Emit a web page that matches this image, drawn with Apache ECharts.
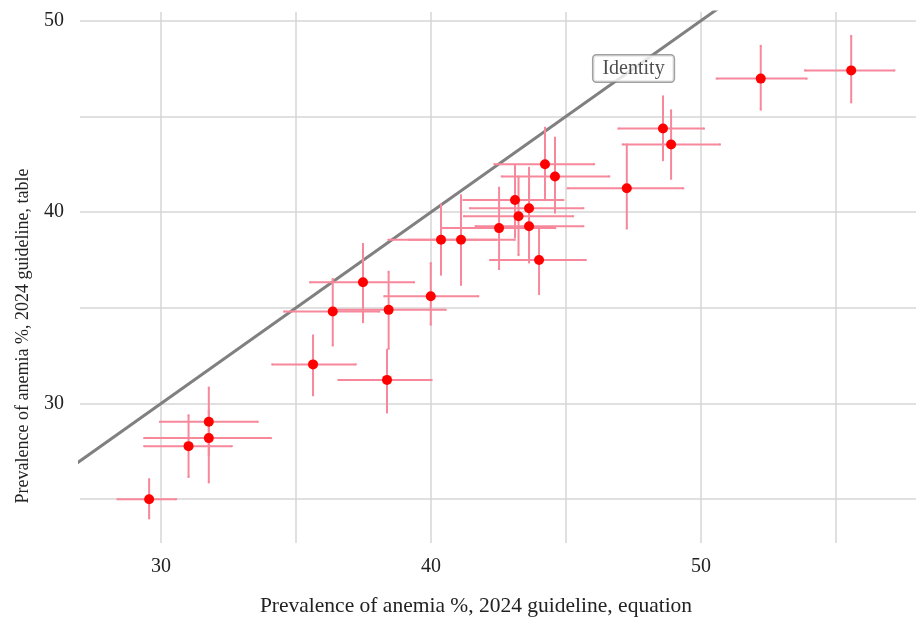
<!DOCTYPE html>
<html lang="en">
<head>
    <meta charset="UTF-8">
    <title>Anemia prevalence: equation vs table</title>
    <script src="https://cdn.jsdelivr.net/npm/echarts@6/dist/echarts.min.js"></script>
    <style>
        html, body {
            margin: 0;
            height: 100%;
            background: #fff;
        }
    </style>
</head>
<body>
<div id="main" style="width: 916px;height: 622px;"></div>
<script>
    // prevalence from equation (x) and table (y), with CI bounds
    var xVals = [29.56, 31.02, 31.77, 31.77, 35.63, 38.37, 36.36, 38.43, 37.48, 39.99,
        40.37, 41.11, 42.52, 43.11, 43.63, 43.24, 43.63, 44.00, 44.22, 44.59,
        47.25, 48.59, 48.89, 52.21, 55.56];
    var yVals = [25.00, 27.77, 29.04, 28.19, 32.04, 31.23, 34.80, 34.89, 36.33, 35.60,
        38.55, 38.55, 39.16, 40.63, 40.20, 39.78, 39.26, 37.49, 42.50, 41.86,
        41.24, 44.36, 43.53, 46.97, 47.40];
    var xLow = [28.39, 29.38, 29.96, 29.38, 34.12, 36.57, 34.56, 36.40, 35.52, 38.27,
        38.42, 39.20, 40.39, 41.20, 41.44, 41.22, 41.65, 42.19, 42.35, 42.62,
        45.06, 46.94, 47.10, 50.58, 53.85];
    var xHigh = [30.56, 32.62, 33.58, 34.07, 37.21, 40.02, 38.08, 40.54, 39.37, 41.75,
        42.40, 43.10, 44.60, 44.90, 45.64, 45.26, 45.64, 45.73, 46.04, 46.60,
        49.34, 50.11, 50.70, 53.91, 57.16];
    var yLow = [24.00, 26.16, 27.30, 25.88, 30.43, 29.53, 33.03, 32.86, 34.25, 34.12,
        36.73, 36.20, 37.02, 38.67, 37.37, 37.75, 37.60, 35.72, 40.67, 39.97,
        39.14, 42.71, 41.74, 45.35, 45.73];
    var yHigh = [26.04, 29.38, 30.83, 29.60, 33.55, 32.80, 36.50, 36.88, 38.33, 37.33,
        40.40, 40.87, 41.27, 42.43, 42.31, 41.85, 41.50, 39.10, 44.40, 43.88,
        43.53, 46.04, 45.31, 48.68, 49.20];

    var xRange = [27.0, 57.96];
    var yRange = [22.71, 50.45];
    var identityLabelAt = [47.5, 47.5];

    var barColor = '#f7889b';
    var serif = 'Liberation Serif';

    var points = [];
    var bars = [];
    for (var i = 0; i < xVals.length; i++) {
        points.push([xVals[i], yVals[i]]);
        bars.push([xVals[i], yVals[i], xLow[i], xHigh[i], yLow[i], yHigh[i]]);
    }

    var myChart = echarts.init(document.getElementById('main'));

    function tenOnly(v) {
        return Math.abs(v % 10) < 1e-6 ? String(v) : '';
    }

    var option = {
        animation: false,
        grid: {left: 80, right: 0, top: 12, bottom: 77},
        xAxis: {
            type: 'value',
            min: xRange[0],
            max: xRange[1],
            name: 'Prevalence of anemia %, 2024 guideline, equation',
            nameLocation: 'middle',
            nameGap: 52,
            nameTextStyle: {fontFamily: serif, fontSize: 21.5, color: '#222', padding: [0, 44, 0, 0]},
            axisLine: {show: false},
            axisTick: {show: false},
            axisLabel: {
                formatter: tenOnly, fontFamily: serif, fontSize: 20, color: '#222', margin: 14,
                showMinLabel: false, showMaxLabel: false
            },
            splitLine: {show: true, showMinLine: false, showMaxLine: false, lineStyle: {color: '#d6d6d6', width: 1.5}}
        },
        yAxis: {
            type: 'value',
            min: yRange[0],
            max: yRange[1],
            name: 'Prevalence of anemia %, 2024 guideline, table',
            nameLocation: 'middle',
            nameGap: 48,
            nameRotate: 90,
            nameTextStyle: {fontFamily: serif, fontSize: 18, color: '#222', padding: [0, 117, 0, 0]},
            axisLine: {show: false},
            axisTick: {show: false},
            axisLabel: {
                formatter: tenOnly, fontFamily: serif, fontSize: 20, color: '#222', margin: 16,
                showMinLabel: false, showMaxLabel: false
            },
            splitLine: {show: true, showMinLine: false, showMaxLine: false, lineStyle: {color: '#d6d6d6', width: 1.5}}
        },
        series: [
            {
                // identity line y = x
                type: 'line',
                data: [[20, 20], [60, 60]],
                symbol: 'none',
                clip: true,
                lineStyle: {color: '#808080', width: 3},
                z: 2
            },
            {
                // error bars, both directions
                type: 'custom',
                data: bars,
                clip: true,
                z: 3,
                renderItem: function (params, api) {
                    var c = api.coord([api.value(0), api.value(1)]);
                    var xl = api.coord([api.value(2), api.value(1)]);
                    var xh = api.coord([api.value(3), api.value(1)]);
                    var yl = api.coord([api.value(0), api.value(4)]);
                    var yh = api.coord([api.value(0), api.value(5)]);
                    var st = {stroke: barColor, lineWidth: 2, fill: null};
                    var cap = 1;
                    return {
                        type: 'group',
                        children: [
                            {type: 'line', shape: {x1: xl[0], y1: c[1], x2: xh[0], y2: c[1]}, style: st},
                            {type: 'line', shape: {x1: c[0], y1: yl[1], x2: c[0], y2: yh[1]}, style: st},
                            {type: 'line', shape: {x1: xl[0], y1: c[1] - cap, x2: xl[0], y2: c[1] + cap}, style: st},
                            {type: 'line', shape: {x1: xh[0], y1: c[1] - cap, x2: xh[0], y2: c[1] + cap}, style: st},
                            {type: 'line', shape: {x1: c[0] - cap, y1: yl[1], x2: c[0] + cap, y2: yl[1]}, style: st},
                            {type: 'line', shape: {x1: c[0] - cap, y1: yh[1], x2: c[0] + cap, y2: yh[1]}, style: st}
                        ]
                    };
                }
            },
            {
                type: 'scatter',
                data: points,
                symbol: 'circle',
                symbolSize: 10,
                itemStyle: {color: '#ff0000', opacity: 1},
                z: 4
            },
            {
                // label on the identity line
                type: 'scatter',
                data: [identityLabelAt],
                symbolSize: 0,
                silent: true,
                z: 5,
                label: {
                    show: true,
                    position: 'inside',
                    formatter: 'Identity',
                    fontFamily: serif,
                    fontSize: 20,
                    color: '#222',
                    backgroundColor: '#fff',
                    borderColor: '#888',
                    borderWidth: 1.5,
                    borderRadius: 3,
                    padding: [3, 9, 3, 9]
                }
            }
        ]
    };

    myChart.setOption(option);
</script>
</body>
</html>
